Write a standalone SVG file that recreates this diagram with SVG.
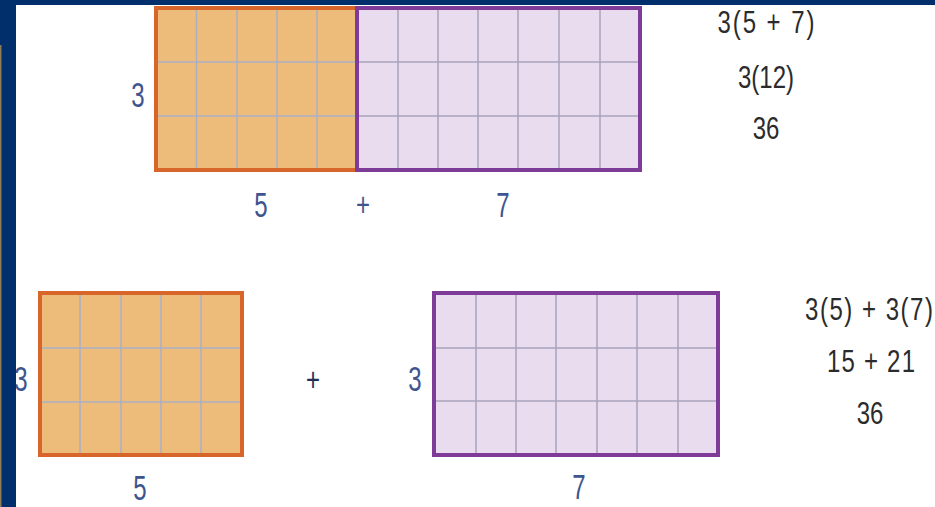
<svg xmlns="http://www.w3.org/2000/svg" width="935" height="507" viewBox="0 0 935 507">
  <defs>
    <style>
      .or { fill: #EDBC7A; stroke: #D8662A; stroke-width: 4; }
      .pu { fill: #E9DCEE; stroke: #7E3B98; stroke-width: 4; }
      .go { stroke: #A9AEC6; stroke-width: 1.5; fill: none; }
      .gp { stroke: #A8A3BC; stroke-width: 1.5; fill: none; }
      .lbl { font-family: "Liberation Sans", Arial, sans-serif; font-size: 24px; fill: #3F5590; text-anchor: middle; }
      .eq { font-family: "Liberation Sans", Arial, sans-serif; font-size: 24px; fill: #2B2B2B; text-anchor: middle; }
    </style>
  </defs>
  <rect x="0" y="0" width="935" height="507" fill="#FFFFFF"/>

  <g id="top-orange">
    <rect class="or" x="156" y="8" width="201" height="162"/>
    <path class="go" d="M196.5 10V168M237 10V168M277 10V168M317 10V168M158 62H355M158 116H355"/>
  </g>
  <g id="top-purple">
    <rect class="pu" x="357" y="8" width="283" height="162"/>
    <path class="gp" d="M398 10V168M438 10V168M478 10V168M518 10V168M559 10V168M600 10V168M359 62H638M359 116H638"/>
  </g>
  <g id="top-labels">
    <text class="lbl" transform="translate(138,107) scale(1,1.5)">3</text>
    <text class="lbl" transform="translate(261,217) scale(1,1.5)">5</text>
    <text class="lbl" transform="translate(363,216) scale(1,1.4)">+</text>
    <text class="lbl" transform="translate(503,217) scale(1,1.5)">7</text>
  </g>
  <g id="top-equations">
    <text class="eq" transform="translate(766,33) scale(1,1.3)" textLength="97" lengthAdjust="spacing">3(5 + 7)</text>
    <text class="eq" transform="translate(766,88) scale(1,1.3)">3(12)</text>
    <text class="eq" transform="translate(766,139) scale(1,1.3)">36</text>
  </g>

  <g id="bottom-orange">
    <rect class="or" x="40" y="293" width="202" height="162"/>
    <path class="go" d="M80 295V453M121 295V453M161 295V453M201 295V453M42 348H240M42 402H240"/>
  </g>
  <g id="bottom-purple">
    <rect class="pu" x="434" y="293" width="284" height="162"/>
    <path class="gp" d="M476 295V453M516 295V453M556 295V453M597 295V453M637 295V453M678 295V453M436 348H716M436 401H716"/>
  </g>
  <g id="bottom-labels">
    <text class="lbl" transform="translate(21,391) scale(1,1.5)">3</text>
    <text class="lbl" transform="translate(140,500) scale(1,1.45)">5</text>
    <text class="lbl" style="fill:#1E2E55" transform="translate(313,391) scale(1,1.4)">+</text>
    <text class="lbl" transform="translate(415,391) scale(1,1.5)">3</text>
    <text class="lbl" transform="translate(579,499) scale(1,1.45)">7</text>
  </g>
  <g id="bottom-equations">
    <text class="eq" transform="translate(869,320) scale(1,1.3)" textLength="128" lengthAdjust="spacing">3(5) + 3(7)</text>
    <text class="eq" transform="translate(871,372) scale(1,1.3)" textLength="88" lengthAdjust="spacing">15 + 21</text>
    <text class="eq" transform="translate(870,424) scale(1,1.3)">36</text>
  </g>

  <g id="connectors"></g>

  <g id="frame">
    <rect x="0" y="0" width="935" height="5" fill="#002F6C"/>
    <rect x="0" y="0" width="16" height="507" fill="#002F6C"/>
    <rect x="0" y="45" width="1.5" height="462" fill="#8C7B55"/>
  </g>
</svg>
